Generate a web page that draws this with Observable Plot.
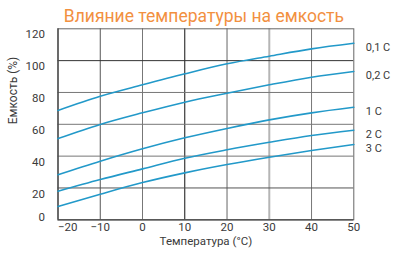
<!DOCTYPE html>
<html><head><meta charset="utf-8">
<script src="https://cdn.jsdelivr.net/npm/d3@7"></script>
<script src="https://cdn.jsdelivr.net/npm/@observablehq/plot@0.6"></script>
<style>body{margin:0;background:#fff;}</style>
</head><body><div id="chart"></div>
<script>
const temps = [-20, -10, 0, 10, 20, 30, 40, 50];
const series = ["0,1 C", "0,2 C", "1 C", "2 C", "3 C"];
const c01 = [68.7, 77.6, 84.8, 91.7, 98.0, 102.8, 107.4, 110.9];
const c02 = [51.0, 59.9, 67.2, 73.9, 79.5, 84.8, 89.6, 93.2];
const c1  = [28.3, 36.8, 44.6, 51.5, 57.4, 62.8, 67.2, 70.7];
const c2  = [18.0, 25.3, 32.0, 38.7, 44.0, 48.7, 53.0, 56.3];
const c3  = [8.4, 16.1, 23.4, 29.5, 34.7, 39.3, 43.5, 47.3];
const xTicks = [-20, -10, 0, 10, 20, 30, 40, 50];
const yTicks = [0, 20, 40, 60, 80, 100, 120];

const values = [c01, c02, c1, c2, c3];
const data = [];
series.forEach((s, i) => temps.forEach((t, j) => data.push({series: s, t, v: values[i][j]})));
const ends = series.map((s, i) => ({series: s, t: temps[temps.length - 1], v: values[i][temps.length - 1]}));

const vGrid = [{x: -10, c: "#555", w: 1}, {x: 0, c: "#777", w: 1}, {x: 10, c: "#111", w: 1}, {x: 20, c: "#666", w: 1}, {x: 30, c: "#b5b5b5", w: 2}, {x: 40, c: "#777", w: 1}];
const hGrid = [{y: 20, c: "#555", w: 1}, {y: 40, c: "#777", w: 1}, {y: 60, c: "#777", w: 1}, {y: 80, c: "#777", w: 1}, {y: 100, c: "#333", w: 1}];

const font = "Roboto, 'DejaVu Sans', sans-serif";
const chart = Plot.plot({
  width: 400, height: 253,
  marginTop: 28.3, marginBottom: 33.7, marginLeft: 57.5, marginRight: 46.7,
  style: {fontFamily: font, fontSize: "11px", color: "#3a3a3a", background: "#fff"},
  x: {domain: [-20, 50]},
  y: {domain: [0, 120]},
  marks: [
    Plot.ruleX(vGrid, {x: "x", stroke: "c", strokeWidth: "w"}),
    Plot.ruleY(hGrid, {y: "y", stroke: "c", strokeWidth: "w"}),
    Plot.frame({stroke: "#666", strokeWidth: 1}),
    Plot.ruleY([0], {stroke: "#444", strokeWidth: 1.3}),
    Plot.ruleX([-20], {stroke: "#444", strokeWidth: 1.3}),
    Plot.line(data, {x: "t", y: "v", z: "series", stroke: "#2299c9", strokeWidth: 1.6, curve: "monotone-x"}),
    Plot.text(ends, {x: "t", y: "v", text: "series", textAnchor: "start", dx: 12, dy: 4, fill: "#3a3a3a", fontSize: 11}),
    Plot.axisX(xTicks.filter(d => d !== -20), {tickSize: 0, tickPadding: 3, label: null, fill: "#3a3a3a", fontSize: 11.5}),
    Plot.axisX([-20], {tickSize: 0, tickPadding: 3, label: null, textAnchor: "start", dx: 0, fill: "#3a3a3a", fontSize: 11.5}),
    Plot.axisY(yTicks.filter(d => d !== 0), {tickSize: 0, tickPadding: 13, dy: 6, label: null, fill: "#3a3a3a", fontSize: 11.5}),
    Plot.axisY([0], {tickSize: 0, tickPadding: 13, dy: -2, label: null, fill: "#3a3a3a", fontSize: 11.5}),
    Plot.text(["Температура (°C)"], {frameAnchor: "bottom", dy: 25, fontSize: 11.5, fill: "#3a3a3a"}),
    Plot.text(["Емкость (%)"], {frameAnchor: "left", rotate: -90, dx: -44.5, fontSize: 12, fill: "#3a3a3a"}),
    Plot.text(["Влияние температуры на емкость"], {frameAnchor: "top", dy: -19, dx: -2, fontSize: 17.5, fill: "#f2903f"})
  ]
});
document.getElementById("chart").appendChild(chart);
</script>
</body></html>
